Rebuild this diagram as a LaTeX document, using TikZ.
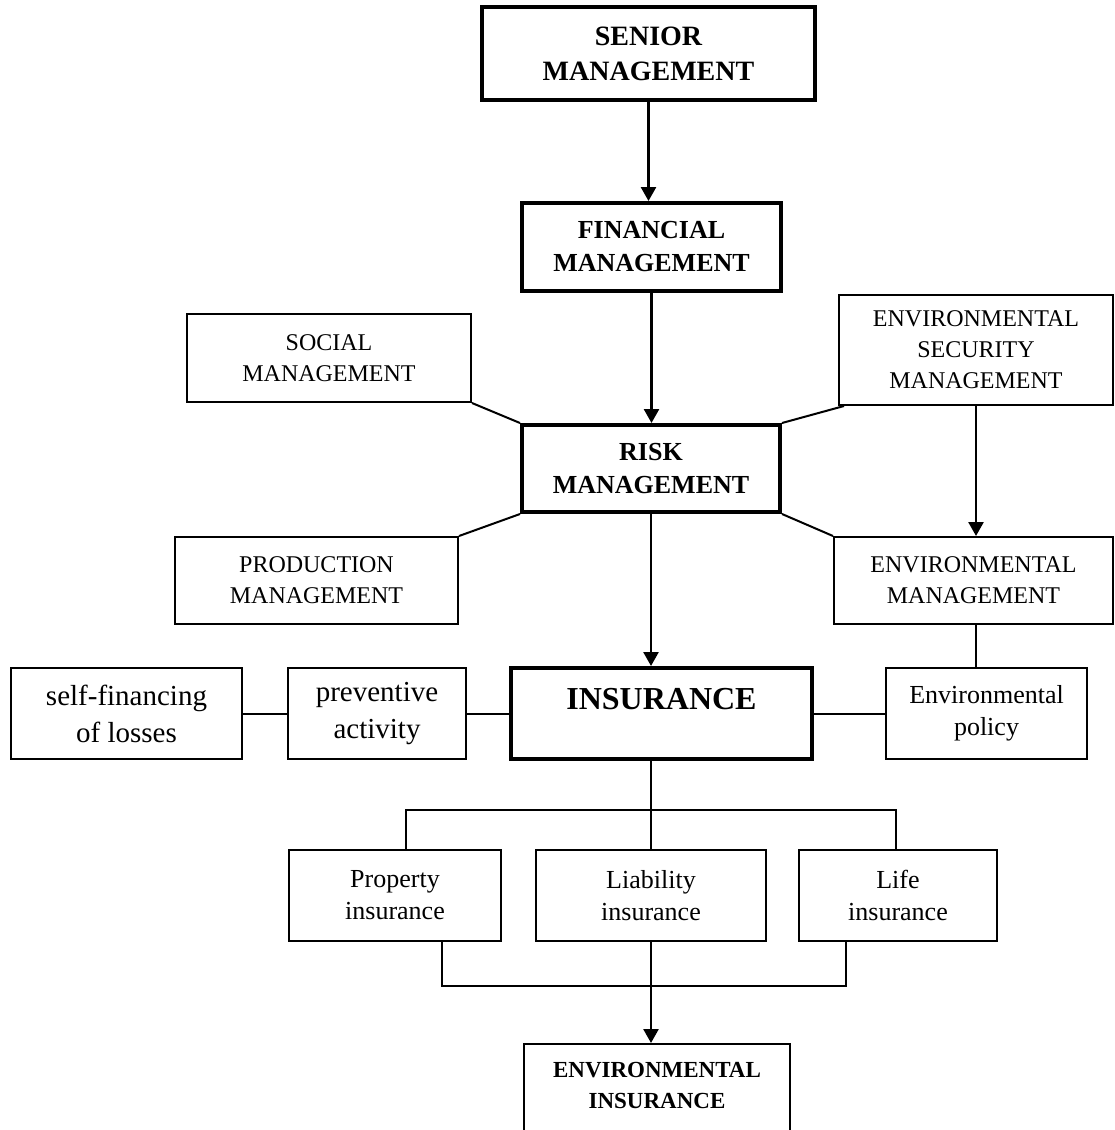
\documentclass[tikz,border=0pt]{standalone}
\usepackage{fontspec}
\setmainfont{Liberation Serif}
\usetikzlibrary{arrows.meta}
\begin{document}
\begin{tikzpicture}[x=1pt,y=-1pt,
  thinbox/.style={draw, line width=2pt, inner sep=0pt, align=center, fill=white},
  thickbox/.style={draw, line width=4pt, inner sep=0pt, align=center, fill=white},
  conn/.style={line width=2pt},
  arr/.style={line width=2.6pt, -{Triangle[width=15pt,length=14pt]}},
  fbig/.style={font=\fontsize{28}{35}\selectfont\bfseries},
  fmid/.style={font=\fontsize{26}{33}\selectfont\bfseries},
  fins/.style={font=\fontsize{32}{38}\selectfont\bfseries},
  fei/.style={font=\fontsize{23}{31}\selectfont\bfseries},
  fcap/.style={font=\fontsize{24}{31}\selectfont},
  flow/.style={font=\fontsize{29}{37}\selectfont},
  fsm/.style={font=\fontsize{26}{32}\selectfont}
]
\useasboundingbox (0,0) rectangle (1115,1130);
\clip (0,0) rectangle (1115,1130);

% boxes
\node[thickbox, fbig, minimum width=333pt, minimum height=93pt] (sen) at (648.5,53.5) {SENIOR\\MANAGEMENT};
\node[thickbox, fmid, minimum width=259pt, minimum height=88pt] (fin) at (651.5,247) {FINANCIAL\\MANAGEMENT};
\node[thickbox, fmid, minimum width=258pt, minimum height=87pt] (risk) at (651,468.5) {RISK\\MANAGEMENT};
\node[thinbox, fcap, minimum width=284pt, minimum height=88pt] (soc) at (329,358) {SOCIAL\\MANAGEMENT};
\node[thinbox, fcap, minimum width=283pt, minimum height=87pt] (prod) at (316.5,580.5) {PRODUCTION\\MANAGEMENT};
\node[thinbox, fcap, minimum width=274pt, minimum height=110pt] (es) at (976,350) {ENVIRONMENTAL\\SECURITY\\MANAGEMENT};
\node[thinbox, fcap, minimum width=279pt, minimum height=87pt] (em) at (973.5,580.5) {ENVIRONMENTAL\\MANAGEMENT};

\node[thickbox, minimum width=301pt, minimum height=91pt] (ins) at (661.5,713.5) {};
\node[fins] (inst) at (661.5,699) {INSURANCE};
\node[thinbox, flow, minimum width=231pt, minimum height=91pt] (sf) at (126.5,713.5) {self-financing\\of losses};
\node[thinbox, flow, minimum width=178pt, minimum height=91pt] (pa) at (377,713.5) {preventive\\activity};
\node[thinbox, fsm, minimum width=201pt, minimum height=91pt] (ep) at (986.5,713.5) {Environmental\\policy};

\node[thinbox, fsm, minimum width=212pt, minimum height=91pt] (pi) at (395,895.5) {Property\\insurance};
\node[thinbox, fsm, minimum width=230pt, minimum height=91pt] (li) at (651,895.5) {Liability\\insurance};
\node[thinbox, fsm, minimum width=198pt, minimum height=91pt] (lf) at (898,895.5) {Life\\insurance};

\node[thinbox, minimum width=266pt, minimum height=150pt, anchor=north] (ei) at (657,1043) {};
\node[fei, align=center, inner sep=0pt, anchor=north] (eit) at (657,1062) {ENVIRONMENTAL\\INSURANCE};

\coordinate (bus) at (650,810);
\coordinate (bus2) at (650,986);

% connectors
\draw[arr] (sen.south) -- (sen.south |- fin.north);
\draw[arr] (fin.south) -- (fin.south |- risk.north);
\draw[conn] (soc.south east) -- (risk.north west);
\draw[conn] (risk.south west) -- (prod.north east);
\draw[conn] (risk.north east) -- ([xshift=6pt]es.south west);
\draw[conn] (risk.south east) -- (em.north west);
\draw[arr] (es.south) -- (es.south |- em.north);
\draw[arr] (risk.south) -- (risk.south |- ins.north);
\draw[conn] (es.south |- em.south) -- (es.south |- ep.north);
\draw[conn] (sf.east) -- (pa.west);
\draw[conn] (pa.east) -- (ins.west);
\draw[conn] (ins.east) -- (ep.west);

\draw[conn] (risk.south |- ins.south) -- (risk.south |- bus);
\draw[conn] ([xshift=11pt]pi.north) |- ([xshift=-2pt]lf.north |- bus) -- ([xshift=-2pt]lf.north);
\draw[conn] (li.north) -- (li.north |- bus);

\draw[conn] ([xshift=47pt]pi.south) |- ([xshift=-52pt]lf.south |- bus2) -- ([xshift=-52pt]lf.south);
\draw[arr] (li.south) -- (li.south |- ei.north);
\end{tikzpicture}
\end{document}
